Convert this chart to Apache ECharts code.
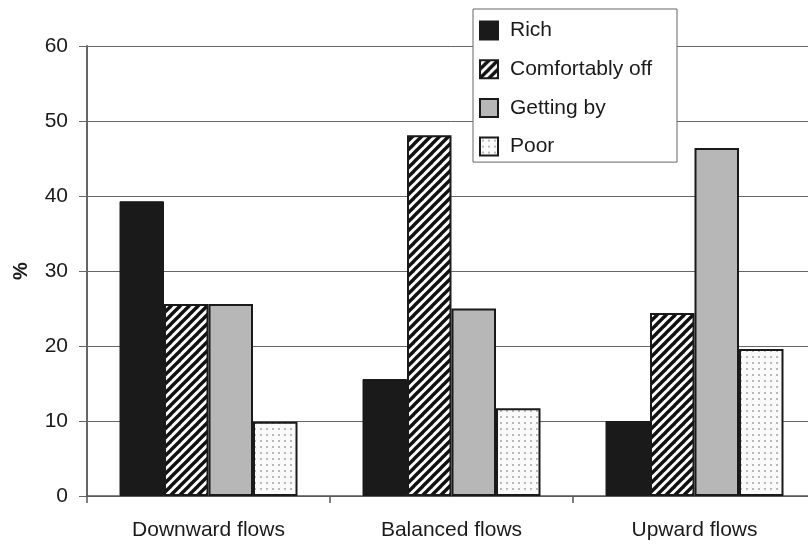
<!DOCTYPE html>
<html>
<head>
<meta charset="utf-8">
<script src="https://cdn.jsdelivr.net/npm/echarts@6/dist/echarts.min.js"></script>
<style>
  html, body { margin: 0; padding: 0; background: #fff; overflow: hidden; }
  #chart { width: 817px; height: 546px; }
</style>
</head>
<body>
<div id="chart"></div>
<script>
// Share of households in each income group, by direction of flow
const categories = ['Downward flows', 'Balanced flows', 'Upward flows'];
const seriesNames = ['Rich', 'Comfortably off', 'Getting by', 'Poor'];
const rich = [39.3, 15.6, 10.0];
const comfortablyOff = [25.6, 48.1, 24.4];
const gettingBy = [25.6, 25.0, 46.4];
const poor = [9.9, 11.7, 19.6];
const yTicks = [0, 10, 20, 30, 40, 50, 60];

const FONT = '"Liberation Sans", Arial, Helvetica, sans-serif';

// Diagonal "/" hatching tile
function hatchTile() {
  const s = 9;
  const c = document.createElement('canvas');
  c.width = s; c.height = s;
  const ctx = c.getContext('2d');
  ctx.fillStyle = '#ffffff';
  ctx.fillRect(0, 0, s, s);
  ctx.strokeStyle = '#111111';
  ctx.lineWidth = 3.4;
  ctx.lineCap = 'square';
  for (const k of [-s, 0, s]) {
    ctx.beginPath();
    ctx.moveTo(k, s);
    ctx.lineTo(k + s, 0);
    ctx.stroke();
  }
  return c;
}

// Sparse grey dot tile
function dotTile() {
  const w = 6, h = 6;
  const c = document.createElement('canvas');
  c.width = w; c.height = h;
  const ctx = c.getContext('2d');
  ctx.fillStyle = '#fafafa';
  ctx.fillRect(0, 0, w, h);
  ctx.fillStyle = '#999999';
  ctx.beginPath();
  ctx.arc(3, 3, 0.9, 0, Math.PI * 2);
  ctx.fill();
  return c;
}

const fills = [
  '#1a1a1a',
  { image: hatchTile(), repeat: 'repeat' },
  '#b7b7b7',
  { image: dotTile(), repeat: 'repeat' }
];
const values = [rich, comfortablyOff, gettingBy, poor];

const chart = echarts.init(document.getElementById('chart'), null, { renderer: 'canvas' });

chart.setOption({
  animation: false,
  backgroundColor: '#ffffff',
  grid: { left: 87, top: 46, right: 1, height: 450, containLabel: false },
  legend: {
    orient: 'vertical',
    left: 473,
    top: 9,
    width: 205,
    padding: [11, 25, 5, 6],
    itemWidth: 18,
    itemHeight: 18,
    itemGap: 17.7,
    icon: 'rect',
    borderColor: '#666666',
    borderWidth: 1,
    backgroundColor: '#ffffff',
    textStyle: { fontFamily: FONT, fontSize: 21, color: '#1a1a1a', lineHeight: 21, padding: [0, 0, 0, 7] },
    data: seriesNames
  },
  xAxis: {
    type: 'category',
    data: categories,
    axisLine: { lineStyle: { color: '#555555', width: 1.5 } },
    axisTick: { show: true, length: 7, lineStyle: { color: '#555555', width: 1.5 } },
    axisLabel: { fontFamily: FONT, fontSize: 21, color: '#1a1a1a', margin: 24 },
    splitLine: { show: false }
  },
  yAxis: {
    type: 'value',
    min: yTicks[0],
    max: yTicks[yTicks.length - 1],
    interval: 10,
    name: '%',
    nameLocation: 'middle',
    nameRotate: 90,
    nameGap: 56,
    nameTextStyle: { fontFamily: FONT, fontSize: 20, fontWeight: 'bold', color: '#1a1a1a' },
    axisLine: { show: true, lineStyle: { color: '#666666', width: 2 } },
    axisTick: { show: true, length: 8, lineStyle: { color: '#666666', width: 1 } },
    axisLabel: { fontFamily: FONT, fontSize: 21, color: '#1a1a1a', margin: 19 },
    splitLine: { show: true, lineStyle: { color: '#666666', width: 1 } }
  },
  series: seriesNames.map((name, i) => ({
    name: name,
    type: 'bar',
    data: values[i],
    barWidth: 44.5,
    barGap: '0%',
    itemStyle: {
      color: fills[i],
      borderColor: '#1a1a1a',
      borderWidth: i === 0 ? 1 : 2
    }
  }))
});
</script>
</body>
</html>
